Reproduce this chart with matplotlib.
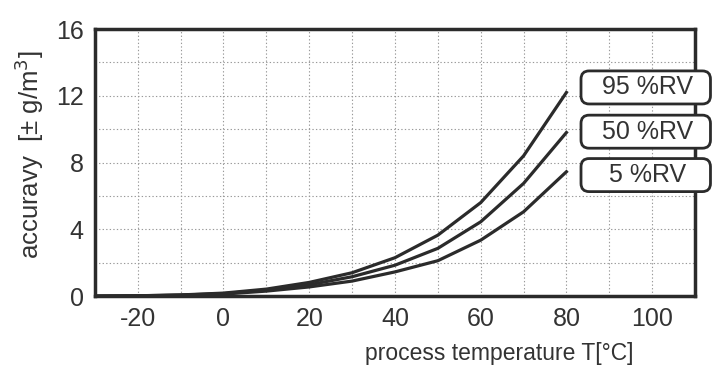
import matplotlib.pyplot as plt
from matplotlib.patches import FancyBboxPatch
import numpy as np

plt.rcParams['font.family'] = ['Liberation Sans', 'DejaVu Sans']
plt.rcParams['axes.unicode_minus'] = False

temps = [-30, -20, -10, 0, 10, 20, 30, 40, 50, 60, 70, 80]
rv95 = [0.0, 0.02, 0.07, 0.18, 0.42, 0.82, 1.40, 2.30, 3.65, 5.60, 8.40, 12.2]
rv50 = [0.0, 0.02, 0.06, 0.15, 0.36, 0.68, 1.16, 1.85, 2.86, 4.45, 6.75, 9.8]
rv05 = [0.0, 0.01, 0.05, 0.12, 0.30, 0.55, 0.90, 1.45, 2.12, 3.35, 5.05, 7.45]
labels = ["95 %RV", "50 %RV", "5 %RV"]
label_y = [12.5, 9.85, 7.25]

col = '#2b2b2b'

fig = plt.figure(figsize=(7.24, 3.72), dpi=100)
ax = fig.add_axes([0.131, 0.204, 0.829, 0.718])

for vals in [rv95, rv50, rv05]:
    ax.plot(temps, vals, color=col, lw=2.3, solid_joinstyle='miter')

ax.set_xlim(-30, 110)
ax.set_ylim(0, 16)
ax.set_xticks(np.arange(-20, 101, 20))
ax.set_yticks(np.arange(0, 17, 4))
ax.set_xticks(np.arange(-30, 111, 10), minor=True)
ax.set_yticks(np.arange(0, 17, 2), minor=True)
ax.grid(which='both', color='#999999', ls=(0, (1.2, 2)), lw=0.8)
ax.tick_params(which='both', length=0, labelsize=18, colors='#333333', pad=8)
for s in ax.spines.values():
    s.set_linewidth(2.5)
    s.set_color(col)

ax.set_ylabel("accuravy  [± g/m$^3$]", fontsize=18.5, color='#333333')
ax.yaxis.set_label_coords(-0.082, 0.53)
ax.set_xlabel("process temperature T[°C]", fontsize=16.5, color='#333333')
ax.xaxis.set_label_coords(0.673, -0.17)

# fixed size label boxes (width / height in data units)
bw, bh = 30.2, 1.98
aspect = (bh / 33.0) / (bw / 130.0)
for lab, yy in zip(labels, label_y):
    box = FancyBboxPatch((98.5 - bw / 2, yy - bh / 2), bw, bh,
                         boxstyle='round,pad=0,rounding_size=1.9',
                         mutation_aspect=aspect, fc='white', ec=col, lw=2,
                         clip_on=False, zorder=5)
    ax.add_patch(box)
    ax.text(99, yy, lab, fontsize=18, color='#333333', ha='center',
            va='center', clip_on=False, zorder=6)

fig.savefig('out.png', dpi=100)
